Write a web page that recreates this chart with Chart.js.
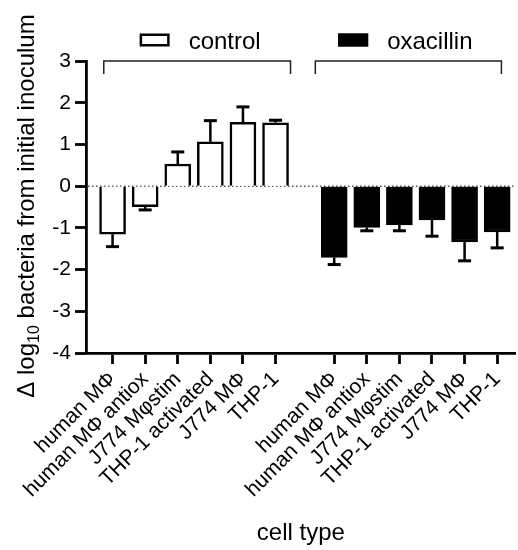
<!DOCTYPE html>
<html>
<head>
<meta charset="utf-8">
<script src="https://cdn.jsdelivr.net/npm/chart.js@4.4.0/dist/chart.umd.min.js"></script>
<style>
html,body{margin:0;padding:0;background:#fff;}
#wrap{width:518px;height:550px;position:relative;}
</style>
</head>
<body>
<div id="wrap"><canvas id="chart"></canvas></div>
<script>
// values (log10 change, error = one-sided SD)
const cellTypes = ['human MΦ','human MΦ antiox','J774 Mφstim','THP-1 activated','J774 MΦ','THP-1'];
const groups = ['control','oxacillin'];
const controlMean = [-1.15,-0.49,0.53,1.06,1.53,1.52];
const controlErr  = [0.30,0.08,0.29,0.51,0.37,0.06];
const oxaMean = [-1.71,-0.99,-0.93,-0.81,-1.34,-1.10];
const oxaErr  = [0.17,0.08,0.14,0.39,0.45,0.38];
const yTicks = [-4,-3,-2,-1,0,1,2,3];

const GAP = 0.8;          // extra space between the two groups
const bracketSpans = [[0.73,6.46],[7.22,12.93]];
const FONT = "'Liberation Sans', Arial, sans-serif";

function pos(g,i){ return g*(cellTypes.length+GAP)+i+1; }
function series(g, arr){ return arr.map((v,i)=>({x:pos(g,i), y:v})); }

const tickPos = [], tickLab = [];
groups.forEach((g,gi)=> cellTypes.forEach((c,i)=>{ tickPos.push(pos(gi,i)); tickLab.push(c); }));
const errs = [controlErr, oxaErr];
const means = [controlMean, oxaMean];

const decor = {
  id:'decor',
  beforeDatasetsDraw(chart){
    const ctx = chart.ctx, a = chart.chartArea, y0 = chart.scales.y.getPixelForValue(0);
    ctx.save();
    ctx.strokeStyle = '#555'; ctx.lineWidth = 1.5; ctx.setLineDash([1.5,2.5]);
    ctx.beginPath(); ctx.moveTo(a.left+2, y0); ctx.lineTo(a.right, y0); ctx.stroke();
    ctx.restore();
  },
  afterDatasetsDraw(chart){
    const ctx = chart.ctx, a = chart.chartArea, ys = chart.scales.y, xs = chart.scales.x;
    ctx.save();
    // error bars
    ctx.strokeStyle = '#000';
    chart.data.datasets.forEach((ds,di)=>{
      const meta = chart.getDatasetMeta(di);
      meta.data.forEach((bar,i)=>{
        const m = means[di][i], e = errs[di][i];
        const yA = ys.getPixelForValue(m), yB = ys.getPixelForValue(m + Math.sign(m)*e);
        ctx.lineWidth = 2.5;
        ctx.beginPath(); ctx.moveTo(bar.x, yA); ctx.lineTo(bar.x, yB); ctx.stroke();
        ctx.lineWidth = 3;
        ctx.beginPath(); ctx.moveTo(bar.x-6.5, yB); ctx.lineTo(bar.x+6.5, yB); ctx.stroke();
      });
    });
    // group brackets + legend items
    ctx.font = '24px ' + FONT; ctx.textBaseline = 'alphabetic'; ctx.textAlign = 'left';
    groups.forEach((g,gi)=>{
      const x1 = xs.getPixelForValue(bracketSpans[gi][0]), x2 = xs.getPixelForValue(bracketSpans[gi][1]);
      const top = a.top;
      ctx.strokeStyle = '#222'; ctx.lineWidth = 1.5;
      ctx.beginPath(); ctx.moveTo(x1, top+13); ctx.lineTo(x1, top); ctx.lineTo(x2, top); ctx.lineTo(x2, top+13); ctx.stroke();
      const tw = ctx.measureText(g).width, bw = 30, gapT = 19;
      const left = (x1+x2)/2 - (bw+gapT+tw)/2 + (gi ? -3 : 3);
      const ds = chart.data.datasets[gi];
      ctx.fillStyle = ds.backgroundColor;
      ctx.fillRect(left, top-27.5, bw, 13);
      ctx.strokeStyle = '#000'; ctx.lineWidth = 2.5;
      ctx.strokeRect(left+1.25, top-26.25, bw-2.5, 10.5);
      ctx.fillStyle = '#000';
      ctx.fillText(g, left+bw+gapT, top-12.5);
    });
    // y axis title with subscript
    ctx.translate(34, 206); ctx.rotate(-Math.PI/2);
    const p1 = 'Δ log', sub = '10', p2 = ' bacteria from initial inoculum';
    ctx.font = '24px ' + FONT; const w1 = ctx.measureText(p1).width, w3 = ctx.measureText(p2).width;
    ctx.font = '16px ' + FONT; const w2 = ctx.measureText(sub).width;
    let x = -(w1+w2+w3)/2;
    ctx.fillStyle = '#000';
    ctx.font = '24px ' + FONT; ctx.fillText(p1, x, 0); x += w1;
    ctx.font = '16px ' + FONT; ctx.fillText(sub, x, 5); x += w2;
    ctx.font = '24px ' + FONT; ctx.fillText(p2, x, 0);
    ctx.restore();
  }
};

Chart.defaults.font.family = FONT;
Chart.defaults.color = '#000';

new Chart(document.getElementById('chart'), {
  type:'bar',
  data:{
    datasets:[
      {label:groups[0], data:series(0,controlMean), backgroundColor:'#fff', borderColor:'#000', borderWidth:2.5, barThickness:26, grouped:false},
      {label:groups[1], data:series(1,oxaMean), backgroundColor:'#000', borderColor:'#000', borderWidth:2.5, barThickness:26, grouped:false}
    ]
  },
  options:{
    responsive:true, maintainAspectRatio:false, animation:false,
    layout:{padding:{top:61,left:0,right:0,bottom:0}},
    plugins:{legend:{display:false}, tooltip:{enabled:false}},
    scales:{
      x:{
        type:'linear', min:0.185, max:13.37, offset:false,
        afterFit:s=>{ s.height = 197; },
        afterBuildTicks:s=>{ s.ticks = tickPos.map(v=>({value:v})); },
        ticks:{autoSkip:false, minRotation:45, maxRotation:45, padding:3, font:{size:21},
          callback:(v)=>{ const k = tickPos.findIndex(p=>Math.abs(p-v)<1e-6); return k>=0 ? tickLab[k] : ''; }},
        grid:{display:true, drawOnChartArea:false, offset:false, tickLength:11, tickWidth:2.8, color:'#000'},
        border:{display:true, width:2.8, color:'#000'},
        title:{display:true, text:'cell type', font:{size:24}, padding:{top:0,bottom:2}}
      },
      y:{
        min:-4, max:3,
        afterFit:s=>{ s.width = 86; },
        afterBuildTicks:s=>{ s.ticks = yTicks.map(v=>({value:v})); },
        ticks:{padding:4, font:{size:21}},
        grid:{display:true, drawOnChartArea:false, tickLength:11, tickWidth:2.8, color:'#000'},
        border:{display:true, width:2.8, color:'#000'}
      }
    }
  },
  plugins:[decor]
});
</script>
</body>
</html>
